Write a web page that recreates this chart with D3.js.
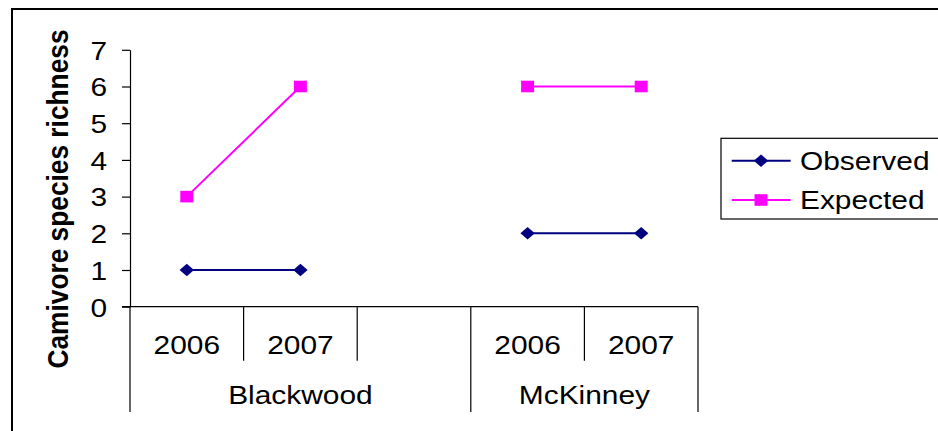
<!DOCTYPE html>
<html>
<head>
<meta charset="utf-8">
<script src="https://cdn.jsdelivr.net/npm/d3@7"></script>
<style>
  html, body { margin: 0; padding: 0; background: #fff; }
  svg { display: block; font-family: "Liberation Sans", Arial, sans-serif; }
</style>
</head>
<body>
<svg id="chart" width="938" height="431"></svg>
<script>
// Category slots along the x axis (the third Blackwood slot is left empty)
const categorySites = ["Blackwood", "Blackwood", "Blackwood", "McKinney", "McKinney"];
const categoryYears = ["2006", "2007", "", "2006", "2007"];

// Carnivore species richness per slot
const observed = [1, 1, null, 2, 2];
const expected = [3, 6, null, 6, 6];

const yTicks = [0, 1, 2, 3, 4, 5, 6, 7];
const seriesNames = ["Observed", "Expected"];
const seriesColors = ["#000080", "#FF00FF"];
const yTitle = "Camivore species richness";

const svg = d3.select("#chart");
const FONT = 26;     // text size
const SX = 1.15;     // horizontal widening of glyphs

// Outer frame
svg.append("rect")
  .attr("x", 12).attr("y", 9)
  .attr("width", 1000).attr("height", 600)
  .attr("fill", "none").attr("stroke", "#000").attr("stroke-width", 2);

const plotLeft = 130, plotRight = 698;
const idx = d3.range(categoryYears.length);

const x = d3.scaleBand().domain(idx).range([plotLeft, plotRight]).padding(0);
const y = d3.scaleLinear().domain([0, 7]).range([306.7, 49.8]);
const cx = i => x(i) + x.bandwidth() / 2;

// Y axis
const yAxis = svg.append("g")
  .attr("transform", `translate(${plotLeft},0)`)
  .call(d3.axisLeft(y).tickValues(yTicks).tickSize(8).tickSizeOuter(0).tickFormat(d3.format("d")));
yAxis.select(".domain").attr("stroke", "#000").attr("stroke-width", 1.2);
yAxis.selectAll(".tick line").attr("stroke", "#000").attr("stroke-width", 1.2);
yAxis.selectAll(".tick text").remove();
yAxis.selectAll(".tick").append("text")
  .attr("text-anchor", "end")
  .attr("dy", "0.36em")
  .attr("transform", `translate(-23,0) scale(${SX},1)`)
  .attr("fill", "#000")
  .style("font-size", FONT + "px")
  .text(d => d);

// X axis baseline
const y0 = y(0);
svg.append("line")
  .attr("x1", plotLeft - 8).attr("x2", plotRight)
  .attr("y1", y0).attr("y2", y0)
  .attr("stroke", "#000").attr("stroke-width", 1.2);

// Slot separators: short between years, long at site boundaries
const boundaries = d3.range(categoryYears.length + 1);
boundaries.forEach(b => {
  const bx = b < categoryYears.length ? x(b) : plotRight;
  const isGroupEdge = b === 0 || b === categoryYears.length ||
    categorySites[b] !== categorySites[b - 1];
  svg.append("line")
    .attr("x1", bx).attr("x2", bx)
    .attr("y1", y0).attr("y2", isGroupEdge ? 412 : 360.7)
    .attr("stroke", "#000").attr("stroke-width", 1.2);
});

// Year labels
svg.append("g").selectAll("text")
  .data(idx.filter(i => categoryYears[i] !== ""))
  .join("text")
  .attr("text-anchor", "middle")
  .attr("transform", i => `translate(${cx(i)},353.5) scale(${SX},1)`)
  .style("font-size", FONT + "px")
  .attr("fill", "#000")
  .text(i => categoryYears[i]);

// Site labels centred under their slots
const sites = Array.from(new Set(categorySites));
svg.append("g").selectAll("text")
  .data(sites)
  .join("text")
  .attr("text-anchor", "middle")
  .attr("transform", s => {
    const members = idx.filter(i => categorySites[i] === s);
    const left = x(members[0]);
    const right = x(members[members.length - 1]) + x.bandwidth();
    return `translate(${(left + right) / 2},403.5) scale(${SX},1)`;
  })
  .style("font-size", FONT + "px")
  .attr("fill", "#000")
  .text(s => s);

// Y axis title
svg.append("text")
  .attr("text-anchor", "middle")
  .attr("transform", `translate(67.5,199) scale(1.13,1) rotate(-90)`)
  .style("font-size", "26.3px")
  .style("font-weight", "bold")
  .attr("fill", "#000")
  .text(yTitle);

// Marker shapes
const diamond = (px, py) => `M${px - 7.2},${py}L${px},${py - 6.2}L${px + 7.2},${py}L${px},${py + 6.2}Z`;
const square = (px, py) => `M${px - 6.5},${py - 5.8}h13v11.6h-13Z`;
const markers = [diamond, square];

const lineGen = d3.line()
  .defined(d => d.v !== null)
  .x(d => cx(d.i))
  .y(d => y(d.v));

[observed, expected].forEach((vals, s) => {
  const pts = vals.map((v, i) => ({ i, v }));
  svg.append("path")
    .attr("d", lineGen(pts))
    .attr("fill", "none")
    .attr("stroke", seriesColors[s])
    .attr("stroke-width", 2);
  svg.append("g").selectAll("path")
    .data(pts.filter(d => d.v !== null))
    .join("path")
    .attr("d", d => markers[s](cx(d.i), y(d.v)))
    .attr("fill", seriesColors[s]);
});

// Legend
const legend = svg.append("g");
legend.append("rect")
  .attr("x", 721).attr("y", 138.3)
  .attr("width", 400).attr("height", 80.7)
  .attr("fill", "#fff").attr("stroke", "#000").attr("stroke-width", 1.2);
const rowY = [160.7, 200];
seriesNames.forEach((name, s) => {
  legend.append("line")
    .attr("x1", 731.7).attr("x2", 790.7)
    .attr("y1", rowY[s]).attr("y2", rowY[s])
    .attr("stroke", seriesColors[s]).attr("stroke-width", 2);
  legend.append("path")
    .attr("d", markers[s](761, rowY[s]))
    .attr("fill", seriesColors[s]);
  legend.append("text")
    .attr("transform", `translate(800,${rowY[s] + 9}) scale(${SX},1)`)
    .style("font-size", FONT + "px")
    .attr("fill", "#000")
    .text(name);
});
</script>
</body>
</html>
